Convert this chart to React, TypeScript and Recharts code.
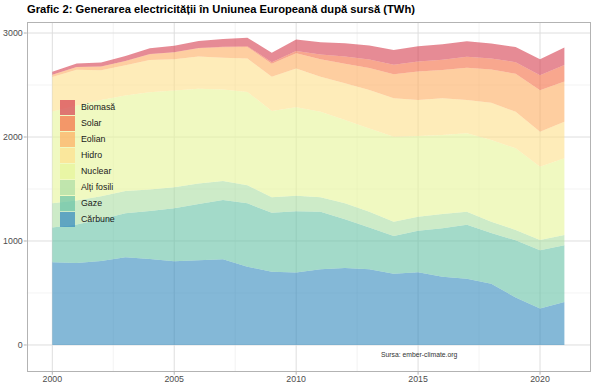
import React from 'react';
import { AreaChart, Area, XAxis, YAxis, CartesianGrid } from 'recharts';

const years = [2000, 2001, 2002, 2003, 2004, 2005, 2006, 2007, 2008, 2009, 2010, 2011, 2012, 2013, 2014, 2015, 2016, 2017, 2018, 2019, 2020, 2021];

// TWh, bottom of the stack first
const carbune = [795, 788, 808, 843, 827, 805, 814, 824, 753, 705, 697, 728, 740, 728, 686, 699, 657, 638, 590, 456, 350, 414];
const gaze = [335, 370, 400, 423, 461, 509, 542, 570, 609, 567, 588, 554, 470, 402, 362, 400, 465, 519, 487, 550, 560, 544];
const altiFosili = [232, 232, 222, 214, 207, 204, 196, 184, 173, 148, 151, 138, 152, 152, 138, 135, 138, 125, 109, 100, 100, 100];
const nuclear = [884, 911, 927, 919, 935, 929, 912, 880, 899, 830, 849, 823, 801, 801, 817, 776, 759, 753, 785, 785, 704, 737];
const hidro = [330, 345, 285, 290, 310, 300, 310, 305, 320, 330, 375, 337, 353, 369, 369, 346, 353, 321, 359, 352, 337, 352];
const eolian = [22, 27, 35, 43, 57, 68, 79, 100, 112, 125, 145, 168, 188, 212, 232, 275, 272, 310, 320, 365, 398, 388];
const solar = [0, 0, 0, 0, 1, 1, 2, 4, 7, 14, 22, 45, 70, 82, 92, 96, 98, 106, 105, 112, 144, 158];
const biomasa = [30, 35, 40, 47, 55, 62, 68, 75, 82, 92, 110, 118, 128, 135, 140, 145, 150, 150, 145, 145, 155, 168];

const xTicks = [2000, 2005, 2010, 2015, 2020];
const xMinor = [2002.5, 2007.5, 2012.5, 2017.5];
const yTicks = [0, 1000, 2000, 3000];
const yMinor = [500, 1500, 2500];

const series = [
  { key: 'carbune', name: 'Cărbune', color: '#3288BD' },
  { key: 'gaze', name: 'Gaze', color: '#66C2A5' },
  { key: 'altiFosili', name: 'Alți fosili', color: '#ABDDA4' },
  { key: 'nuclear', name: 'Nuclear', color: '#E6F598' },
  { key: 'hidro', name: 'Hidro', color: '#FEE08B' },
  { key: 'eolian', name: 'Eolian', color: '#FDAE61' },
  { key: 'solar', name: 'Solar', color: '#F46D43' },
  { key: 'biomasa', name: 'Biomasă', color: '#D53E4F' },
];

const data = years.map((year, i) => ({
  year,
  carbune: carbune[i],
  gaze: gaze[i],
  altiFosili: altiFosili[i],
  nuclear: nuclear[i],
  hidro: hidro[i],
  eolian: eolian[i],
  solar: solar[i],
  biomasa: biomasa[i],
}));

const font = '"Liberation Sans", Arial, sans-serif';

export default function App() {
  return (
    <div style={{ position: 'absolute', left: 0, top: 0, width: 600, height: 388, background: '#fff', fontFamily: font }}>
      <div style={{ position: 'absolute', left: 27, top: 3, fontSize: 11.2, fontWeight: 'bold', color: '#000', whiteSpace: 'nowrap' }}>
        Grafic 2: Generarea electricității în Uniunea Europeană după sursă (TWh)
      </div>
      <AreaChart
        width={600}
        height={388}
        data={data}
        margin={{ top: 22, right: 10, bottom: 0, left: 0 }}
        style={{ fontFamily: font }}
      >
        <CartesianGrid stroke="#ebebeb" strokeWidth={0.6} horizontalValues={yMinor} verticalValues={xMinor} />
        <CartesianGrid stroke="#dedede" strokeWidth={1} horizontalValues={yTicks} verticalValues={xTicks} />
        <XAxis
          dataKey="year"
          type="number"
          domain={[1998.95, 2022.05]}
          ticks={xTicks}
          allowDataOverflow
          height={16.3}
          axisLine={false}
          tickLine={{ stroke: '#b3b3b3' }}
          tickSize={3}
          tickMargin={1}
          tick={{ fontSize: 8.8, fill: '#4d4d4d' }}
        />
        <YAxis
          type="number"
          domain={[-257, 3106]}
          ticks={yTicks}
          allowDataOverflow
          width={26.7}
          axisLine={false}
          tickLine={{ stroke: '#b3b3b3' }}
          tickSize={3}
          tickMargin={1}
          tick={{ fontSize: 8.8, fill: '#4d4d4d' }}
        />
        {series.map((s) => (
          <Area
            key={s.key}
            type="linear"
            dataKey={s.key}
            name={s.name}
            stackId="1"
            stroke="none"
            fill={s.color}
            fillOpacity={0.6}
            isAnimationActive={false}
          />
        ))}
      </AreaChart>
      <div style={{ position: 'absolute', left: 26.5, top: 21.5, width: 564, height: 350.5, border: '1px solid #b3b3b3', boxSizing: 'border-box', pointerEvents: 'none' }} />
      <div style={{ position: 'absolute', left: 60, top: 99 }}>
        {[...series].reverse().map((s) => (
          <div key={s.key} style={{ display: 'flex', alignItems: 'center', height: 16 }}>
            <div style={{ width: 15, height: 15, background: s.color, opacity: 0.7 }} />
            <span style={{ marginLeft: 6, fontSize: 8.8, color: '#1a1a1a' }}>{s.name}</span>
          </div>
        ))}
      </div>
      <div style={{ position: 'absolute', left: 381, top: 351, fontSize: 6.8, color: '#333' }}>
        Sursa: ember-climate.org
      </div>
    </div>
  );
}
